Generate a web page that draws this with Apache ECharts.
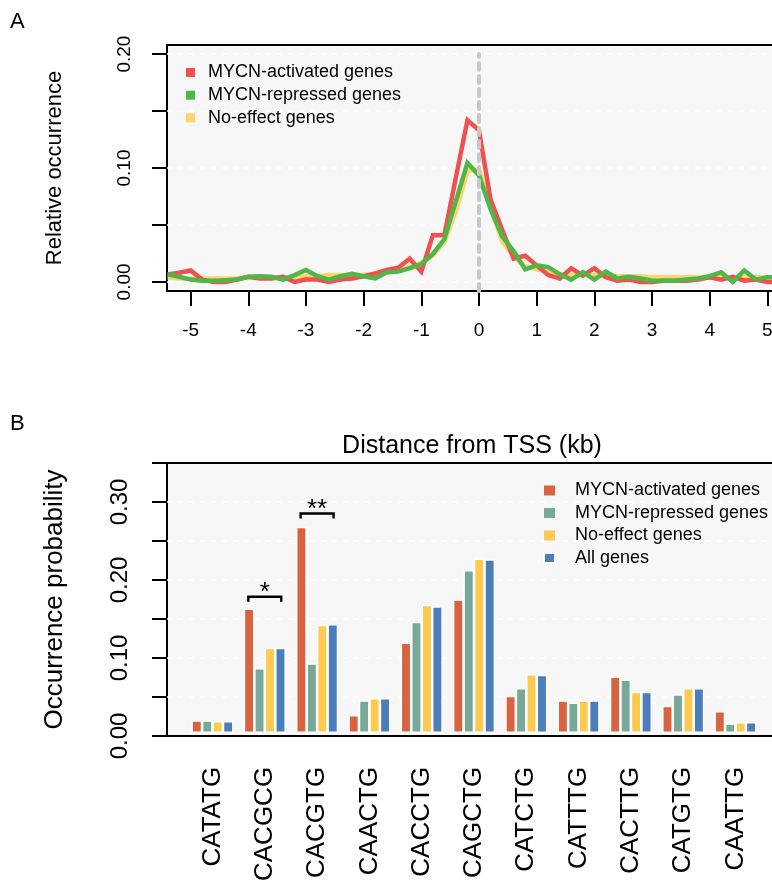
<!DOCTYPE html>
<html>
<head>
<meta charset="utf-8">
<script src="https://cdn.jsdelivr.net/npm/echarts@6/dist/echarts.min.js"></script>
<style>
  html, body { margin: 0; padding: 0; background: #fff; overflow: hidden; }
  /* the original figure is cropped on the right, so the chart is a bit wider than the window */
  #main { width: 800px; height: 884px; }
</style>
</head>
<body>
<div id="main"></div>
<script>
// ---- panel A: profile around TSS ----
var distKb = [-5.4, -5.2, -5.0, -4.8, -4.6, -4.4, -4.2, -4.0, -3.8, -3.6, -3.4, -3.2, -3.0, -2.8,
    -2.6, -2.4, -2.2, -2.0, -1.8, -1.6, -1.4, -1.2, -1.0, -0.8, -0.6, -0.4, -0.2, 0, 0.2, 0.4,
    0.6, 0.8, 1.0, 1.2, 1.4, 1.6, 1.8, 2.0, 2.2, 2.4, 2.6, 2.8, 3.0, 3.2, 3.4, 3.6, 3.8, 4.0,
    4.2, 4.4, 4.6, 4.8, 5.0, 5.2, 5.4];
var activatedProfile = [0.0066, 0.008, 0.010, 0.002, 0.000, 0.000, 0.002, 0.0045, 0.003, 0.003,
    0.0045, 0.000, 0.002, 0.002, 0.000, 0.002, 0.003, 0.005, 0.0075, 0.0105, 0.0125, 0.0204,
    0.009, 0.041, 0.041, 0.092, 0.142, 0.133, 0.0725, 0.046, 0.0205, 0.023, 0.0145, 0.006,
    0.003, 0.012, 0.0055, 0.012, 0.004, 0.001, 0.002, 0.000, 0.000, 0.001, 0.001, 0.001,
    0.002, 0.004, 0.002, 0.0045, 0.001, 0.002, 0.000, 0.000, 0.001];
var repressedProfile = [0.0066, 0.0045, 0.002, 0.001, 0.001, 0.0015, 0.002, 0.0045, 0.005, 0.0045,
    0.002, 0.006, 0.0105, 0.005, 0.002, 0.005, 0.007, 0.005, 0.003, 0.0085, 0.009, 0.012,
    0.0157, 0.0245, 0.0376, 0.071, 0.1045, 0.0934, 0.064, 0.040, 0.027, 0.011, 0.0145, 0.013,
    0.0066, 0.002, 0.0085, 0.002, 0.009, 0.003, 0.0045, 0.003, 0.001, 0.001, 0.001, 0.002,
    0.003, 0.005, 0.0085, 0.000, 0.010, 0.002, 0.004, 0.004, 0.004];
var noEffectProfile = [0.004, 0.003, 0.003, 0.003, 0.003, 0.003, 0.003, 0.004, 0.004, 0.004,
    0.004, 0.004, 0.005, 0.005, 0.006, 0.006, 0.006, 0.006, 0.007, 0.008, 0.010, 0.013,
    0.017, 0.023, 0.035, 0.062, 0.097, 0.099, 0.066, 0.036, 0.022, 0.014, 0.011, 0.009,
    0.007, 0.006, 0.006, 0.006, 0.005, 0.005, 0.005, 0.005, 0.004, 0.004, 0.004, 0.004,
    0.004, 0.004, 0.004, 0.004, 0.004, 0.004, 0.004, 0.004, 0.004];
var xTicksA = [-5, -4, -3, -2, -1, 0, 1, 2, 3, 4, 5];
var yTicksA = [0, 0.05, 0.10, 0.15, 0.20];
var yLabelsA = [0, 0.10, 0.20];

// ---- panel B: E-box occurrence ----
var motifs = ['CATATG', 'CACGCG', 'CACGTG', 'CAACTG', 'CACCTG', 'CAGCTG', 'CATCTG', 'CATTTG', 'CACTTG', 'CATGTG', 'CAATTG'];
var activatedProb = [0.016, 0.161, 0.267, 0.023, 0.117, 0.173, 0.048, 0.042, 0.073, 0.035, 0.028];
var repressedProb = [0.016, 0.084, 0.090, 0.042, 0.144, 0.211, 0.058, 0.039, 0.069, 0.050, 0.012];
var noEffectProb = [0.015, 0.110, 0.140, 0.045, 0.166, 0.226, 0.076, 0.042, 0.053, 0.058, 0.014];
var allGenesProb = [0.015, 0.110, 0.141, 0.045, 0.164, 0.225, 0.075, 0.042, 0.053, 0.058, 0.014];
var yLabelsB = [0, 0.10, 0.20, 0.30];
// significance brackets
var sigMotifs = ['CACGCG', 'CACGTG'];
var sigLevels = [0.1765, 0.2846];
var sigMarks = ['*', '**'];

var FONT = 'Liberation Sans, Arial, sans-serif';
var namesA = ['MYCN-activated genes', 'MYCN-repressed genes', 'No-effect genes'];
var colorsA = ['#F0514E', '#4DB74A', '#FED46B'];
var namesB = ['MYCN-activated genes', 'MYCN-repressed genes', 'No-effect genes', 'All genes'];
var colorsB = ['#D9623F', '#78A897', '#FDCA4F', '#4B7DBB'];

function pairs(xs, ys) {
    return xs.map(function (x, i) { return [x, ys[i]]; });
}

var myChart = echarts.init(document.getElementById('main'), null, { renderer: 'canvas' });

// z: yellow at the bottom, then red, green on top
function lineSeries(idx, values, z, extra) {
    var s = {
        name: namesA[idx],
        type: 'line',
        xAxisIndex: 0,
        yAxisIndex: 0,
        data: pairs(distKb, values),
        showSymbol: false,
        symbol: 'none',
        color: colorsA[idx],
        lineStyle: { color: colorsA[idx], width: 4.5, join: 'miter' },
        z: z,
        silent: true
    };
    for (var k in extra) s[k] = extra[k];
    return s;
}

function barSeries(idx, values) {
    return {
        name: namesB[idx],
        type: 'bar',
        xAxisIndex: 2,
        yAxisIndex: 2,
        data: values,
        barWidth: 10.46,
        barGap: '0%',
        color: colorsB[idx],
        itemStyle: { color: colorsB[idx], borderColor: '#fff', borderWidth: 1.3 },
        silent: true
    };
}

option = {
    backgroundColor: '#fff',
    animation: false,
    textStyle: { fontFamily: FONT },
    graphic: [
        { type: 'text', left: 10, top: 11, style: { text: 'A', fontSize: 22, fontFamily: FONT, fill: '#000' } },
        { type: 'text', left: 10, top: 413, style: { text: 'B', fontSize: 22, fontFamily: FONT, fill: '#000' } },
        {
            type: 'text', x: 472, y: 446,
            style: { text: 'Distance from TSS (kb)', fontSize: 25, fontFamily: FONT, fill: '#000', align: 'center', verticalAlign: 'middle' }
        }
    ],
    grid: [
        // A
        { left: 167, top: 45, width: 624, height: 246, show: true, backgroundColor: '#F7F7F7', borderColor: '#000', borderWidth: 2 },
        // B frame
        { left: 167, top: 463, width: 613, height: 273, show: true, backgroundColor: '#F7F7F7', borderColor: '#000', borderWidth: 2 },
        // B bars
        { left: 186.35, top: 463, width: 575.3, height: 273, show: false }
    ],
    legend: [
        {
            orient: 'vertical', left: 181, top: 58, icon: 'rect',
            itemWidth: 9, itemHeight: 9, itemGap: 3.7,
            selectedMode: false,
            textStyle: { fontSize: 18, lineHeight: 19, color: '#000', fontFamily: FONT, padding: [0, 0, 0, 8] },
            data: namesA.map(function (n, i) { return { name: n, itemStyle: { color: colorsA[i] } }; })
        },
        {
            orient: 'vertical', left: 538, top: 476, icon: 'rect',
            itemWidth: 11, itemHeight: 10, itemGap: 3.5,
            selectedMode: false,
            textStyle: { fontSize: 18, lineHeight: 19, color: '#000', fontFamily: FONT, padding: [0, 0, 0, 15] },
            data: namesB.map(function (n, i) { return { name: n, itemStyle: { color: colorsB[i] } }; })
        }
    ],
    xAxis: [
        {
            gridIndex: 0, type: 'value', min: -5.41, max: 5.41,
            axisLine: { show: false, onZero: false },
            axisTick: { show: true, customValues: xTicksA, length: 15, lineStyle: { color: '#000', width: 2 } },
            axisLabel: { customValues: xTicksA, fontSize: 19, color: '#000', margin: 30, fontFamily: FONT },
            splitLine: { show: false }
        },
        { gridIndex: 1, type: 'value', min: 0, max: 1, show: false, axisLine: { onZero: false } },
        {
            gridIndex: 2, type: 'category', data: motifs,
            axisLine: { show: false, onZero: false },
            axisTick: { show: false },
            axisLabel: { rotate: 90, fontSize: 26, color: '#000', margin: 34, interval: 0, fontFamily: FONT },
            splitLine: { show: false }
        }
    ],
    yAxis: [
        {
            gridIndex: 0, type: 'value', min: -0.008, max: 0.208,
            name: 'Relative occurrence', nameLocation: 'middle', nameGap: 101, nameRotate: 90,
            nameTextStyle: { fontSize: 22, color: '#000', fontFamily: FONT },
            axisLine: { show: false, onZero: false },
            axisTick: { show: true, customValues: yTicksA, length: 15, lineStyle: { color: '#000', width: 2 } },
            axisLabel: {
                customValues: yLabelsA, rotate: 90, fontSize: 19, color: '#000', margin: 33, fontFamily: FONT,
                formatter: function (v) { return v.toFixed(2); }
            },
            splitLine: { show: false }
        },
        {
            gridIndex: 1, type: 'value', min: 0, max: 0.35, interval: 0.05,
            name: 'Occurrence probability', nameLocation: 'middle', nameGap: 99, nameRotate: 90,
            nameTextStyle: { fontSize: 26, color: '#000', fontFamily: FONT },
            axisLine: { show: false, onZero: false },
            axisTick: { show: true, length: 15, lineStyle: { color: '#000', width: 2 } },
            axisLabel: {
                customValues: yLabelsB, rotate: 90, fontSize: 24, color: '#000', margin: 35, fontFamily: FONT,
                formatter: function (v) { return v.toFixed(2); }
            },
            splitLine: { show: true, showMinLine: false, showMaxLine: false, lineStyle: { color: '#fff', width: 1.5, type: [5, 6] } }
        },
        { gridIndex: 2, type: 'value', min: 0, max: 0.35, show: false, axisLine: { onZero: false } }
    ],
    series: [
        lineSeries(2, noEffectProfile, 2, {
            markLine: {
                silent: true, symbol: 'none', z: 1, animation: false,
                label: { show: false },
                lineStyle: { color: '#fff', width: 1.5, type: [5, 6] },
                data: yTicksA.map(function (v) { return { yAxis: v }; })
            }
        }),
        lineSeries(0, activatedProfile, 3, {}),
        lineSeries(1, repressedProfile, 4, {
            markLine: {
                silent: true, symbol: 'none', z: 10, animation: false,
                label: { show: false },
                lineStyle: { color: '#C8C8C8', width: 4, type: [7, 6], cap: 'round' },
                data: [[{ coord: [0, -0.008] }, { coord: [0, 0.2] }]]
            }
        }),
        barSeries(0, activatedProb),
        barSeries(1, repressedProb),
        barSeries(2, noEffectProb),
        barSeries(3, allGenesProb),
        {
            type: 'custom',
            xAxisIndex: 2,
            yAxisIndex: 2,
            silent: true,
            z: 10,
            data: sigMotifs.map(function (m, i) { return [m, sigLevels[i], i]; }),
            renderItem: function (params, api) {
                var c = api.coord([api.value(0), api.value(1)]);
                var half = api.size([1, 0])[0] * 0.315;
                var mark = sigMarks[api.value(2)];
                return {
                    type: 'group',
                    children: [
                        {
                            type: 'polyline',
                            shape: { points: [[c[0] - half, c[1] + 5], [c[0] - half, c[1]], [c[0] + half, c[1]], [c[0] + half, c[1] + 5]] },
                            style: { stroke: '#000', lineWidth: 2.4, fill: null }
                        },
                        {
                            type: 'text',
                            x: c[0], y: c[1] - 4,
                            style: { text: mark, fontSize: 26, fontFamily: FONT, fill: '#000', align: 'center', verticalAlign: 'middle' }
                        }
                    ]
                };
            }
        }
    ]
};

myChart.setOption(option);
window.addEventListener('resize', function () {
    myChart.resize();
});
</script>
</body>
</html>
